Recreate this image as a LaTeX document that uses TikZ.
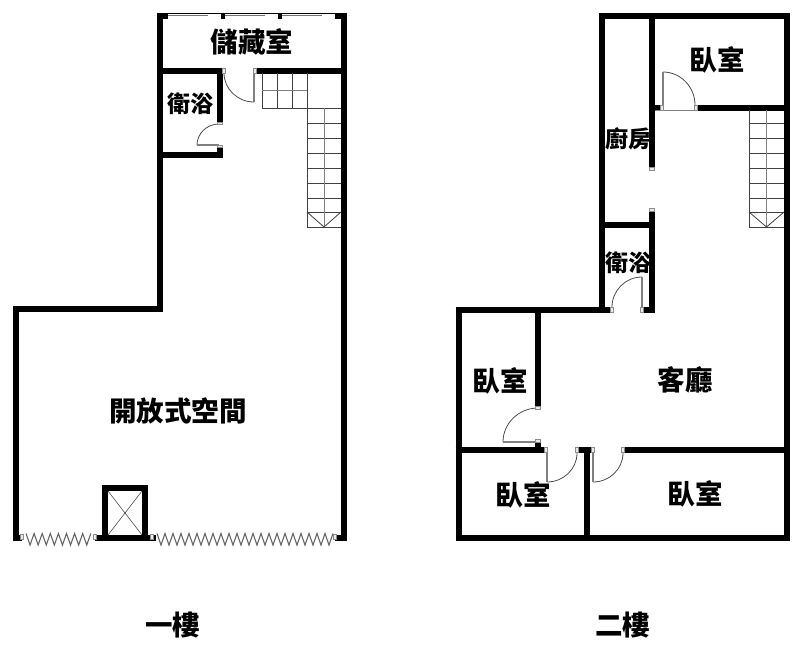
\documentclass[tikz,border=0pt]{standalone}
\usepackage{fontspec}
\usetikzlibrary{calc}
\newfontfamily\cjk{Noto Sans CJK TC}
\tikzset{
  wall/.style={line width=6pt,line cap=butt,line join=miter},
  doorleaf/.style={line width=1.2pt,draw=black!50},
  doorarc/.style={line width=0.8pt,draw=black!70},
  stairline/.style={line width=0.8pt,draw=black!75},
  stairmid/.style={line width=1pt,draw=black!50},
  jambbox/.style={draw=black!45,fill=black!8,line width=0.6pt},
  biglabel/.style={font=\cjk\bfseries\fontsize{27.5}{27.5}\selectfont,inner sep=0pt},
  smalllabel/.style={font=\cjk\bfseries\fontsize{23}{23}\selectfont,inner sep=0pt}
}
\newcommand{\doorswing}[3]{
  \draw[doorarc] (#2) .. controls ($(#2)+0.55*(#3)-0.55*(#1)$) and ($(#3)+0.55*(#2)-0.55*(#1)$) .. (#3);
  \draw[doorleaf] (#1) -- (#2);
}
\newcommand{\stairrun}[4]{
  \foreach \stepy in {123,138,153,168,183,198,212,227}
    \draw[stairline] (#1,\stepy) -- (#2,\stepy);
  \draw[stairline] (#1,#3) -- (#1,227);
  \draw[stairmid] ({(#1+#2)/2},#4) -- ({(#1+#2)/2},227);
  \draw[stairline] (#1,212) -- ({(#1+#2)/2},227) -- (#2,212);
}
\begin{document}
\begin{tikzpicture}[x=1pt,y=-1pt]
\useasboundingbox (0,0) rectangle (800,656);

\draw[wall] (160,16) -- (344,16);
\draw[wall] (160,13) -- (160,309) -- (13,309);
\draw[wall] (16,306) -- (16,540.5);
\draw[wall] (344,13) -- (344,540.5);
\draw[wall] (157,70.5) -- (224,70.5);
\draw[wall] (255,70.5) -- (347,70.5);
\draw[wall] (219.5,70.5) -- (219.5,124);
\draw[wall] (157,155) -- (222.5,155);
\draw[wall] (219.5,155) -- (219.5,145);
\draw[wall] (13,537.7) -- (22,537.7);
\draw[wall] (95,537.7) -- (156,537.7);
\draw[wall] (335,537.7) -- (347,537.7);
\draw[wall] (105,537.7) -- (105,488) -- (145,488) -- (145,537.7);
\draw[line width=0.6pt,draw=black!70] (108,491) -- (142,535) (142,491) -- (108,535);

\foreach \winx in {168,225,282}{
  \fill[white] (\winx,14.4) rectangle ({\winx+53},18.8);
  \draw[line width=0.9pt,draw=black!55] (\winx,15.6) -- ({\winx+40},15.6);
}

\doorswing{254,73}{254,102}{224,73}
\doorswing{219,145}{197,145}{219,124}
\foreach \jx in {224,255}
  \draw[jambbox] ({\jx-1.5},68) rectangle ({\jx+1.5},73);
\draw[jambbox] (217,122) rectangle (222,124.5);
\draw[jambbox] (217,145) rectangle (222,147.5);

\draw[stairline] (262,73) -- (262,108) -- (341,108);
\draw[stairline] (277,73) -- (277,108);
\draw[stairline] (292,73) -- (292,108);
\draw[stairmid] (262,90) -- (307,90);
\stairrun{307}{341}{73}{108}

\foreach \jx/\jy in {20/537,93/537,150/537,333/537}
  \draw[jambbox] (\jx,{\jy-2.5}) rectangle ({\jx+3.5},{\jy+2.5});
\draw[line width=1.1pt,draw=black!60] (26,533.5) \foreach \zx in {1,...,8}{ -- ({26+(\zx-0.5)*8.1},545) -- ({26+\zx*8.1},533.5) };
\draw[line width=1.1pt,draw=black!60] (157,533.5) \foreach \zx in {1,...,22}{ -- ({157+(\zx-0.5)*8},545) -- ({157+\zx*8},533.5) };

\draw[wall] (602,16) -- (786.5,16);
\draw[wall] (602,13) -- (602,312);
\draw[wall] (786.5,13) -- (786.5,540.5);
\draw[wall] (652,16) -- (652,168);
\draw[wall] (652,210) -- (652,312.5);
\draw[wall] (652,107.5) -- (662,107.5);
\draw[wall] (696,107.5) -- (789.5,107.5);
\draw[wall] (602,224.5) -- (652,224.5);
\draw[wall] (455.5,309.5) -- (612,309.5);
\draw[wall] (642,309.5) -- (655,309.5);
\draw[wall] (458.5,306.5) -- (458.5,537.5) -- (789.5,537.5);
\draw[wall] (538,309.5) -- (538,408);
\draw[wall] (538,442) -- (538,450);
\draw[wall] (455.5,450) -- (547,450);
\draw[wall] (577,450) -- (593,450);
\draw[wall] (623,450) -- (789.5,450);
\draw[wall] (587,450) -- (587,537.5);

\draw[doorleaf] (655,110.5) -- (696,110.5);
\draw[doorleaf] (663,110) -- (663,105);
\doorswing{663,105}{663,72}{695,105}
\draw[doorleaf] (642,312) -- (642,307);
\doorswing{642,307}{642,277}{612,307}
\doorswing{538,442}{503,442}{538,408}
\doorswing{547,453}{547,482}{577,453}
\doorswing{593,453}{593,482}{623,453}
\foreach \jx/\jy in {662/107.5,696/107.5,612/309.5,642/309.5,546/450,577/450,593/450,623/450}
  \draw[jambbox] ({\jx-1.5},{\jy-2.5}) rectangle ({\jx+1.5},{\jy+2.5});
\foreach \jx/\jy in {652/169,652/210,538/408,538/441}
  \draw[jambbox] ({\jx-2.5},{\jy-1.5}) rectangle ({\jx+2.5},{\jy+1.5});

\stairrun{749}{784}{110}{110}

\node[biglabel] (storage) at (252,42) {儲藏室};
\node[smalllabel] (bathone) at (190.5,104) {衛浴};
\node[biglabel] (openspace) at (178,411) {開放式空間};
\node[biglabel] (floorone) at (172.5,625) {一樓};
\node[biglabel] (bedtop) at (717,60) {臥室};
\node[smalllabel] (kitchen) at (628,139) {廚房};
\node[smalllabel] (bathtwo) at (628,263) {衛浴};
\node[biglabel] (living) at (685,380) {客廳};
\node[biglabel] (bedleft) at (500,381) {臥室};
\node[biglabel] (bedlow) at (523,495) {臥室};
\node[biglabel] (bedright) at (695,494) {臥室};
\node[biglabel] (floortwo) at (622.5,625) {二樓};
\end{tikzpicture}
\end{document}
